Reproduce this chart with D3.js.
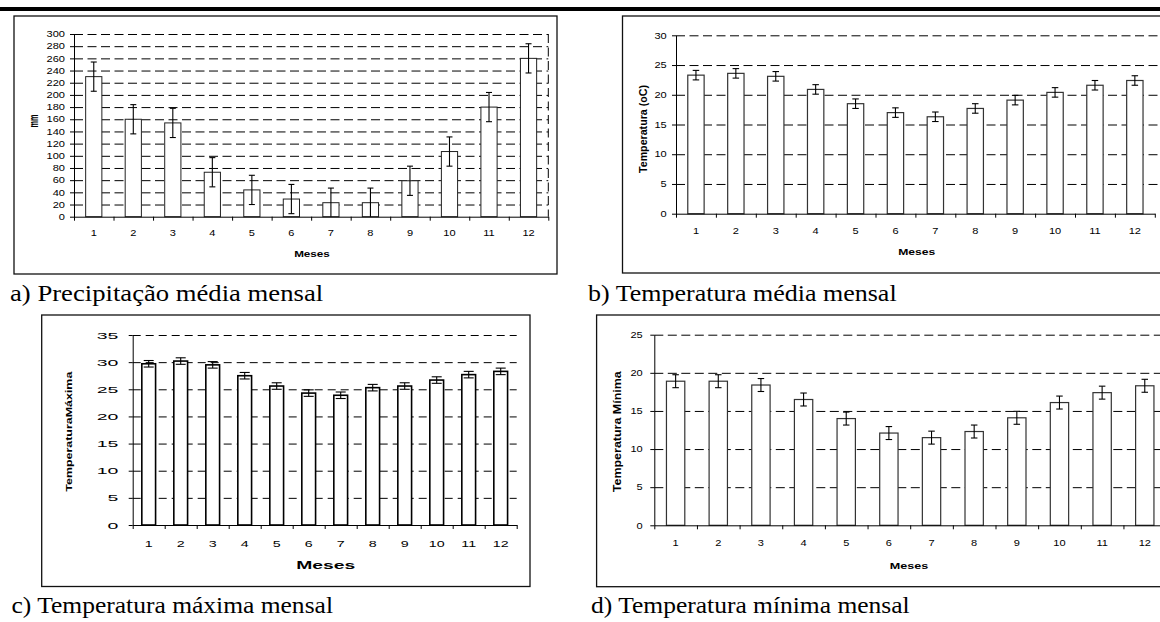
<!DOCTYPE html>
<html>
<head>
<meta charset="utf-8">
<style>
  body { margin: 0; background: #fff; }
  svg { display: block; }
  text { font-family: 'Liberation Sans', Arial, sans-serif; fill: #000; }
  text.cap { font-family: 'Liberation Serif', 'Times New Roman', serif; }
</style>
</head>
<body></body>
<script src="https://d3js.org/d3.v7.min.js"></script>
<script>
  // chart data
  const months = ['1', '2', '3', '4', '5', '6', '7', '8', '9', '10', '11', '12']

  const precip = [230, 160, 154, 73, 44, 29, 23, 23, 59, 107, 180, 260]
  const precipErr = [24, 24, 24, 24, 24, 24, 24, 24, 24, 24, 24, 24]

  const tempMed = [23.3, 23.6, 23.1, 20.9, 18.5, 17.0, 16.3, 17.7, 19.1, 20.4, 21.6, 22.4]
  const tempMedErr = [0.8, 0.8, 0.8, 0.8, 0.8, 0.8, 0.8, 0.8, 0.8, 0.8, 0.8, 0.8]

  const tempMax = [29.7, 30.2, 29.5, 27.5, 25.6, 24.3, 23.9, 25.3, 25.6, 26.7, 27.7, 28.3]
  const tempMaxErr = [0.6, 0.6, 0.6, 0.6, 0.6, 0.6, 0.6, 0.6, 0.6, 0.6, 0.6, 0.6]

  const tempMin = [18.9, 18.9, 18.4, 16.5, 14.0, 12.1, 11.5, 12.3, 14.1, 16.1, 17.4, 18.3]
  const tempMinErr = [0.85, 0.85, 0.85, 0.85, 0.85, 0.85, 0.85, 0.85, 0.85, 0.85, 0.85, 0.85]

  const captions = [
    'a) Precipitação média mensal',
    'b) Temperatura média mensal',
    'c) Temperatura máxima mensal',
    'd) Temperatura mínima mensal'
  ]

  const svg = d3.select('body')
    .append('svg')
    .attr('width', 1160)
    .attr('height', 622)

  // thick rule at the top of the page
  svg.append('rect')
    .attr('x', 0).attr('y', 7)
    .attr('width', 1160).attr('height', 4)
    .attr('fill', '#000')

  // text that is stretched sideways like the scanned figure
  function label(g, txt, x, y, o) {
    const t = g.append('text')
      .attr('transform', `translate(${x},${y}) scale(${o.sx || 1},1)` + (o.rot ? ` rotate(${o.rot})` : ''))
      .attr('text-anchor', o.anchor || 'middle')
      .attr('dy', o.dy ?? '0.35em')
      .attr('font-size', o.size)
      .attr('font-weight', o.bold ? 'bold' : 'normal')
      .text(txt)
    if (o.len) t.attr('textLength', o.len).attr('lengthAdjust', o.adjust || 'spacingAndGlyphs')
    if (o.cls) t.attr('class', o.cls)
    return t
  }

  function panel(p) {
    const g = svg.append('g')
    const rows = months.map((m, i) => ({ m, v: p.values[i], e: p.errors[i] }))

    // frame
    g.append('rect')
      .attr('x', p.box[0]).attr('y', p.box[1])
      .attr('width', p.box[2] - p.box[0]).attr('height', p.box[3] - p.box[1])
      .attr('fill', 'none').attr('stroke', '#111').attr('stroke-width', 1.3)

    const x = d3.scaleBand()
      .domain(months)
      .range([p.x0, p.x1])
      .paddingInner(p.pad)
      .paddingOuter(p.pad / 2)
    const xb = d3.scaleLinear().domain([0, 12]).range([p.x0, p.x1])
    const y = d3.scaleLinear().domain([0, p.ymax]).range([p.y0, p.yTop])
    const ticks = d3.range(0, p.ymax + p.step / 2, p.step)

    // dashed gridlines
    g.append('g')
      .attr('transform', `translate(${p.x0},0)`)
      .call(d3.axisLeft(y).tickValues(ticks.slice(1)).tickSize(-(p.gridEnd - p.x0)).tickFormat(''))
      .call(a => a.select('.domain').remove())
      .selectAll('line')
      .attr('stroke', '#000')
      .attr('stroke-dasharray', p.dash)

    if (p.rightDash) {
      g.append('line')
        .attr('x1', xb(12)).attr('x2', xb(12))
        .attr('y1', y(p.ymax)).attr('y2', y(0))
        .attr('stroke', '#000')
        .attr('stroke-dasharray', p.dash)
    }

    // bars
    g.selectAll('rect.bar')
      .data(rows)
      .enter().append('rect')
      .attr('class', 'bar')
      .attr('x', d => x(d.m))
      .attr('y', d => y(d.v))
      .attr('width', x.bandwidth())
      .attr('height', d => y(0) - y(d.v))
      .attr('fill', '#fff')
      .attr('stroke', p.barStroke)
      .attr('stroke-width', p.barWidth)

    // error bars
    const cx = d => x(d.m) + x.bandwidth() / 2
    const eb = g.selectAll('g.err')
      .data(rows)
      .enter().append('g')
      .attr('class', 'err')
      .attr('stroke', '#000')
      .attr('stroke-width', 1.1)
    eb.append('line')
      .attr('x1', cx).attr('x2', cx)
      .attr('y1', d => y(d.v + d.e))
      .attr('y2', d => y(Math.max(0, d.v - d.e)))
    eb.append('line')
      .attr('x1', d => cx(d) - p.cap / 2).attr('x2', d => cx(d) + p.cap / 2)
      .attr('y1', d => y(d.v + d.e)).attr('y2', d => y(d.v + d.e))
    eb.filter(d => d.v - d.e > 0).append('line')
      .attr('x1', d => cx(d) - p.cap / 2).attr('x2', d => cx(d) + p.cap / 2)
      .attr('y1', d => y(d.v - d.e)).attr('y2', d => y(d.v - d.e))

    // y axis
    const ya = g.append('g')
      .attr('transform', `translate(${p.x0},0)`)
      .call(d3.axisLeft(y).tickValues(ticks).tickSize(4).tickSizeOuter(0).tickFormat(d3.format('d')))
    ya.selectAll('line, path').attr('stroke', '#000')
    ya.selectAll('text')
      .attr('font-size', p.tickSize)
      .attr('font-family', "'Liberation Sans', Arial, sans-serif")
      .attr('transform', `scale(${p.ySx},1)`)
      .attr('x', -p.yGap / p.ySx)

    // x axis line with ticks between the months
    const xa = g.append('g')
      .attr('transform', `translate(0,${p.y0})`)
      .call(d3.axisBottom(xb).tickValues(d3.range(0, 13)).tickSize(4).tickSizeOuter(0).tickFormat(''))
    xa.selectAll('line, path').attr('stroke', '#000')

    // month labels
    const xl = g.append('g')
      .attr('transform', `translate(0,${p.y0})`)
      .call(d3.axisBottom(x).tickSize(0))
    xl.select('.domain').remove()
    xl.selectAll('text')
      .attr('font-size', p.tickSize)
      .attr('font-family', "'Liberation Sans', Arial, sans-serif")
      .attr('y', p.xLabOff)
      .attr('dy', '0.35em')
      .attr('transform', `scale(${p.xSx},1)`)
      .attr('x', 0)

    // axis titles
    label(g, 'Meses', p.meses[0], p.meses[1], { size: p.mesesSize, bold: true, sx: p.mesesSx })
    label(g, p.yTitle, p.yT[0], p.yT[1], {
      size: p.yTSize, bold: true, sx: p.yTSx, rot: -90, len: p.yTLen
    })

    // caption below the frame
    label(g, p.caption, p.cap0[0], p.cap0[1], { size: 23, sx: p.capSx, anchor: 'start', dy: 0, cls: 'cap' })
  }

  panel({
    values: precip, errors: precipErr, caption: captions[0],
    box: [14, 16, 557, 274],
    x0: 74, x1: 548.3, y0: 216.7, yTop: 34, ymax: 300, step: 20,
    pad: 0.59, gridEnd: 548.3, dash: '9,4.5', rightDash: true,
    barStroke: '#222', barWidth: 1, cap: 6,
    tickSize: 8.5, ySx: 1.3, xSx: 1.3, yGap: 9, xLabOff: 16.3,
    meses: [312, 254], mesesSize: 9, mesesSx: 1.3,
    yTitle: 'mm', yT: [34, 121], yTSize: 9.5, yTSx: 1.3, yTLen: 13,
    cap0: [10, 301], capSx: 1.16
  })

  panel({
    values: tempMed, errors: tempMedErr, caption: captions[1],
    box: [622.5, 16, 1175, 273],
    x0: 676, x1: 1154.8, y0: 213.7, yTop: 35.3, ymax: 30, step: 5,
    pad: 0.59, gridEnd: 1160, dash: '9,4.5', rightDash: false,
    barStroke: '#333', barWidth: 1.2, cap: 6.5,
    tickSize: 8.5, ySx: 1.3, xSx: 1.3, yGap: 9.3, xLabOff: 17.3,
    meses: [916.7, 251.7], mesesSize: 9, mesesSx: 1.35,
    yTitle: 'Temperatura (oC)', yT: [643, 129], yTSize: 9, yTSx: 1.2, yTLen: 88,
    cap0: [588, 301], capSx: 1.13
  })

  panel({
    values: tempMax, errors: tempMaxErr, caption: captions[2],
    box: [41.7, 315, 530, 586.5],
    x0: 132.7, x1: 516.7, y0: 525, yTop: 335, ymax: 35, step: 5,
    pad: 0.57, gridEnd: 516.7, dash: '8,5', rightDash: false,
    barStroke: '#000', barWidth: 1.6, cap: 10,
    tickSize: 9.5, ySx: 2.05, xSx: 1.5, yGap: 14.4, xLabOff: 19,
    meses: [325.7, 565.7], mesesSize: 10, mesesSx: 1.93,
    yTitle: 'TemperaturaMáxima', yT: [69.3, 431.7], yTSize: 12, yTSx: 0.75, yTLen: 120,
    cap0: [11.5, 612.7], capSx: 1.11
  })

  panel({
    values: tempMin, errors: tempMinErr, caption: captions[3],
    box: [596.6, 315, 1175, 586.7],
    x0: 654.3, x1: 1166.1, y0: 525.3, yTop: 334.7, ymax: 25, step: 5,
    pad: 0.57, gridEnd: 1160, dash: '9,4.5', rightDash: false,
    barStroke: '#333', barWidth: 1.2, cap: 6.5,
    tickSize: 8.5, ySx: 1.3, xSx: 1.3, yGap: 11.6, xLabOff: 17.4,
    meses: [909, 565.7], mesesSize: 9, mesesSx: 1.4,
    yTitle: 'Temperatura Mínima', yT: [617, 431.7], yTSize: 10.5, yTSx: 1.1, yTLen: 121,
    cap0: [591, 613], capSx: 1.11
  })
</script>
</html>
